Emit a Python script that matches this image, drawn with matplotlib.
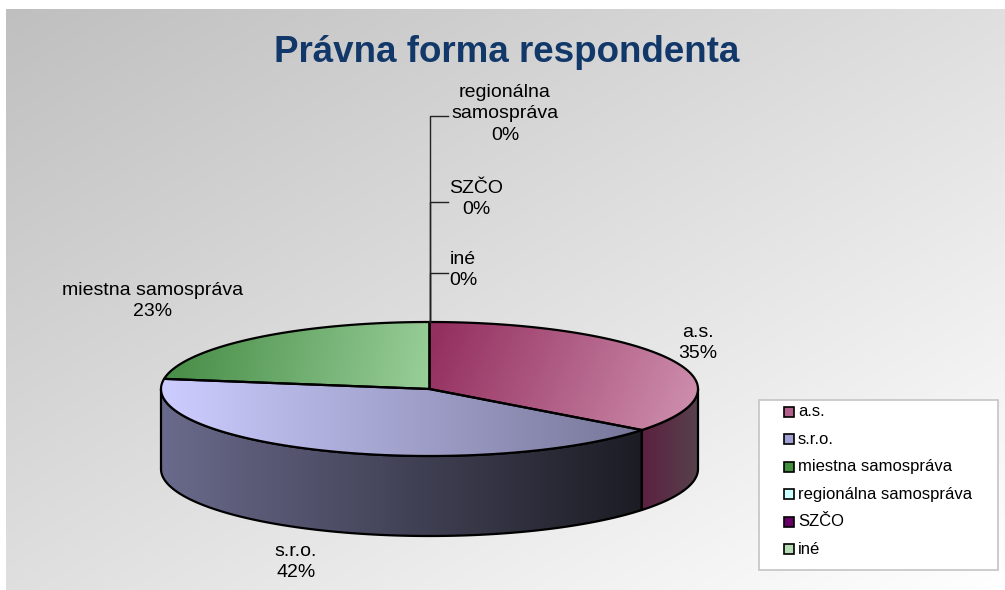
import numpy as np
import matplotlib
matplotlib.use("Agg")
import matplotlib.pyplot as plt
from matplotlib.patches import Polygon, Rectangle
from matplotlib.colors import to_rgb

plt.rcParams['font.family'] = ['Liberation Sans', 'DejaVu Sans']

# data
categories = ["a.s.", "s.r.o.", "miestna samospráva", "regionálna samospráva", "SZČO", "iné"]
counts = [11, 13, 7, 0, 0, 0]
title = "Právna forma respondenta"

# styles
legend_colors = ["#b0608a", "#a0a0d2", "#3f8f3f", "#ccffff", "#660066", "#b5dcb5"]
# top gradient: (c0, c1, p0, p1)
top_grad = [("#943060", "#cf90ae", (440, 325), (690, 430)),
            ("#ccccff", "#77779a", (165, 400), (640, 400)),
            ("#4a8f4a", "#9acf9a", (180, 350), (430, 395))]
side_grad = [("#5c2040", "#56424c", (641, 0), (698, 0)),
             ("#6a6a8c", "#1c1c24", (161, 0), (641, 0))]
# label text centres (x, y)
label_pos = [(698, 343), (296, 562), (153, 301), (505, 114), (476, 199), (463, 270)]
leader_y = {3: 116, 4: 202, 5: 273}

W, H = 1005, 590
CX, CY, RX, RY, DEPTH = 429.5, 389, 268.5, 67, 80


def pt(theta, dy=0.0):
    t = np.radians(theta)
    return CX + RX * np.sin(t), CY - RY * np.cos(t) + dy


def arc(a, b, dy=0.0):
    n = max(2, int(abs(b - a) * 3))
    th = np.radians(np.linspace(a, b, n))
    return np.column_stack([CX + RX * np.sin(th), CY - RY * np.cos(th) + dy])


def grad_fill(ax, verts, c0, c1, p0, p1, z):
    poly = Polygon(verts, closed=True, fc="none", ec="black", lw=1.6, zorder=z + 0.1,
                   joinstyle="round")
    ax.add_patch(poly)
    x0, y0 = verts.min(axis=0)
    x1, y1 = verts.max(axis=0)
    xs = np.linspace(x0, x1, 200)
    ys = np.linspace(y0, y1, 200)
    X, Y = np.meshgrid(xs, ys)
    d = np.array(p1, float) - np.array(p0, float)
    t = ((X - p0[0]) * d[0] + (Y - p0[1]) * d[1]) / (d @ d)
    t = np.clip(t, 0, 1)[..., None]
    img = (1 - t) * np.array(to_rgb(c0)) + t * np.array(to_rgb(c1))
    im = ax.imshow(img, extent=(x0, x1, y1, y0), origin="upper", zorder=z,
                   interpolation="bilinear", aspect="auto")
    im.set_clip_path(poly)


fig = plt.figure(figsize=(W / 100, H / 100), dpi=100)
ax = fig.add_axes([0, 0, 1, 1])
ax.axis("off")

# background gradient
gx, gy = np.meshgrid(np.linspace(0, 1, 300), np.linspace(0, 1, 300))
g = 0.75 + 0.25 * (gx + gy) / 2
ax.imshow(np.dstack([g, g, g]), extent=(6, W, H, 9), origin="upper", zorder=0,
          interpolation="bilinear", aspect="auto", vmin=0, vmax=1)

total = sum(counts)
angles = np.cumsum([0] + [c / total * 360 for c in counts])

# sides (front half only)
for i in range(3):
    a, b = max(angles[i], 90), min(angles[i + 1], 270)
    if b <= a:
        continue
    verts = np.vstack([arc(a, b), arc(b, a, DEPTH)])
    c0, c1, p0, p1 = side_grad[0] if i == 0 else side_grad[1]
    grad_fill(ax, verts, c0, c1, p0, p1, 2)

# tops
for i in range(3):
    a, b = angles[i], angles[i + 1]
    verts = np.vstack([[CX, CY], arc(a, b)])
    c0, c1, p0, p1 = top_grad[i]
    grad_fill(ax, verts, c0, c1, p0, p1, 4)

# leader lines for zero slices
top_x, top_y = pt(0)
for i, y in leader_y.items():
    ax.plot([top_x, top_x, top_x + 18], [top_y, y, y], color="#222222", lw=1.0, zorder=5)

# data labels
for i, (x, y) in enumerate(label_pos):
    name = categories[i]
    if name == "regionálna samospráva":
        name = "regionálna\nsamospráva"
    pct = round(counts[i] / total * 100)
    ax.text(x, y, f"{name}\n{pct}%", ha="center", va="center", fontsize=14,
            linespacing=1.38, color="black", zorder=6)

# title
ax.text(507, 52, title, ha="center", va="center", fontsize=26.5, fontweight="bold",
        color="#12386a", zorder=6)

# legend
ax.add_patch(Rectangle((759, 400), 239, 170, fc="white", ec="#c4c4c4", lw=1.2, zorder=6))
for i, name in enumerate(categories):
    y = 412 + i * 27.4
    ax.add_patch(Rectangle((784, y - 5), 10, 10, fc=legend_colors[i], ec="black", lw=1.2,
                           zorder=7))
    ax.text(798, y, name, ha="left", va="center", fontsize=12, color="black", zorder=7)

ax.set_xlim(0, W)
ax.set_ylim(H, 0)
fig.savefig("out.png", dpi=100, facecolor="white")
